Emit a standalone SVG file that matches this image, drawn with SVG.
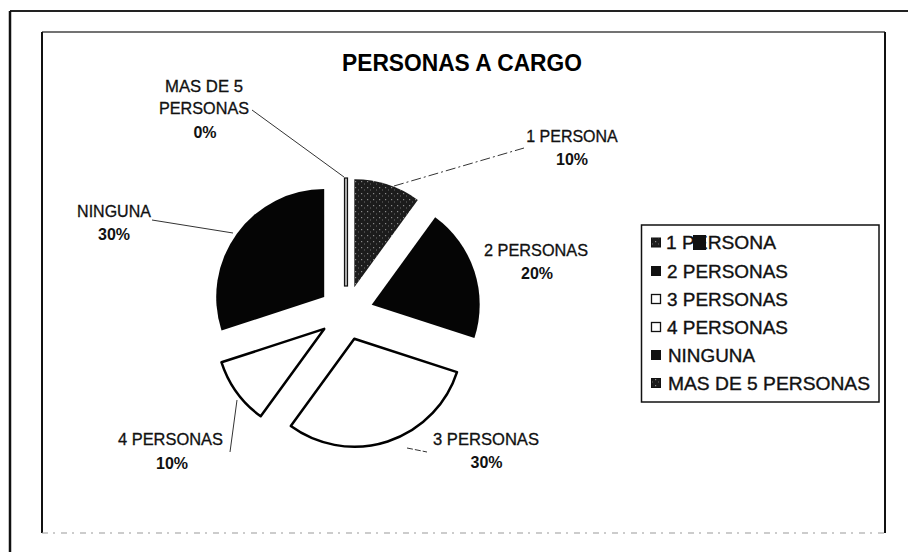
<svg xmlns="http://www.w3.org/2000/svg" width="908" height="552" viewBox="0 0 908 552">
<style>
.lbl{font-family:"Liberation Sans",Arial,sans-serif;font-size:16px;fill:#111;stroke:#111;stroke-width:0.3;text-anchor:middle}
.pct{font-family:"Liberation Sans",Arial,sans-serif;font-size:16px;font-weight:bold;fill:#111;text-anchor:middle}
.leg{font-family:"Liberation Sans",Arial,sans-serif;font-size:18px;fill:#111;stroke:#111;stroke-width:0.35}
.title{font-family:"Liberation Sans",Arial,sans-serif;font-size:23px;font-weight:bold;fill:#000;text-anchor:middle}
.lead{stroke:#333;stroke-width:1;fill:none}
.white{fill:#fff;stroke:#000;stroke-width:2.5;stroke-linejoin:round}
.black{fill:#050505}
.dotted{fill:url(#speck)}
</style>
<defs>
<pattern id="speck" width="6" height="6" patternUnits="userSpaceOnUse">
<rect width="6" height="6" fill="#1c1c1c"/>
<rect x="1" y="1" width="1.2" height="1.2" fill="#8a8a8a"/>
<rect x="4" y="3.5" width="1" height="1" fill="#6e6e6e"/>
</pattern>
</defs>
<rect width="908" height="552" fill="#fff"/>
<g id="frames">
<line x1="10" y1="11" x2="908" y2="11" stroke="#222" stroke-width="2"/>
<line x1="10" y1="11" x2="10" y2="552" stroke="#111" stroke-width="2.5"/>
<line x1="42" y1="32" x2="885" y2="32" stroke="#444" stroke-width="1.5"/>
<line x1="42" y1="32" x2="42" y2="533" stroke="#111" stroke-width="2"/>
<line x1="885" y1="32" x2="885" y2="533" stroke="#111" stroke-width="2"/>
<line x1="42" y1="533" x2="885" y2="533" stroke="#999" stroke-width="1" stroke-dasharray="6 5 2 6"/>
</g>
<text id="title" class="title" x="462" y="71" textLength="240" lengthAdjust="spacingAndGlyphs">PERSONAS A CARGO</text>
<g id="connectors">
<polyline class="lead" points="252,110 344,177"/>
<polyline class="lead" stroke-dasharray="10 3 2 3" points="394,186 524,148"/>
<polyline class="lead" points="152,220 233,233"/>
<polyline class="lead" points="237,400 230,452"/>
<polyline class="lead" stroke-dasharray="6 2" points="407,448 427,452"/>
</g>
<g id="slice-1-persona">
<path class="dotted" d="M354.3,287.3 L354.3,179.3 A108,108 0 0,1 417.8,199.9 Z"/>
</g>
<g id="slice-2-personas">
<path class="black" d="M371.7,304.7 L435.2,217.3 A108,108 0 0,1 474.4,338.1 Z"/>
</g>
<g id="slice-3-personas">
<path class="white" d="M354.3,338.7 L457.0,372.1 A108,108 0 0,1 290.8,426.1 Z"/>
</g>
<g id="slice-4-personas">
<path class="white" d="M324.2,328.9 L260.7,416.3 A108,108 0 0,1 221.5,362.3 Z"/>
</g>
<g id="slice-ninguna">
<path class="black" d="M324.2,297.1 L221.5,330.5 A108,108 0 0,1 324.2,189.1 Z"/>
</g>
<g id="slice-mas-de-5">
<rect x="344.5" y="178" width="3" height="108" fill="#bbb" stroke="#111" stroke-width="1.2"/>
</g>
<g id="label-mas-de-5">
<text class="lbl" x="204" y="92" textLength="78" lengthAdjust="spacingAndGlyphs">MAS DE 5</text>
<text class="lbl" x="204" y="114" textLength="90" lengthAdjust="spacingAndGlyphs">PERSONAS</text>
<text class="pct" x="205" y="138">0%</text>
</g>
<g id="label-1-persona">
<text class="lbl" x="572" y="142">1 PERSONA</text>
<text class="pct" x="572" y="165">10%</text>
</g>
<g id="label-2-personas">
<text class="lbl" x="536" y="256" textLength="104" lengthAdjust="spacingAndGlyphs">2 PERSONAS</text>
<text class="pct" x="537" y="279">20%</text>
</g>
<g id="label-3-personas">
<text class="lbl" x="486" y="445" textLength="106" lengthAdjust="spacingAndGlyphs">3 PERSONAS</text>
<text class="pct" x="486.5" y="468">30%</text>
</g>
<g id="label-4-personas">
<text class="lbl" x="170.5" y="445" textLength="105" lengthAdjust="spacingAndGlyphs">4 PERSONAS</text>
<text class="pct" x="172" y="469">10%</text>
</g>
<g id="label-ninguna">
<text class="lbl" x="114" y="217">NINGUNA</text>
<text class="pct" x="114" y="240">30%</text>
</g>
<g id="legend">
<rect x="641.5" y="225" width="237.5" height="177" fill="#fff" stroke="#111" stroke-width="1.5"/>
<rect x="651.5" y="238" width="9" height="9" fill="url(#speck)" stroke="#111" stroke-width="1"/>
<text class="leg" x="666" y="249" textLength="110" lengthAdjust="spacingAndGlyphs">1 PERSONA</text>
<rect x="693" y="235" width="13" height="15" fill="#111"/>
<rect x="651.5" y="266.5" width="9" height="9" fill="#111" stroke="#111" stroke-width="1"/>
<text class="leg" x="667" y="277.5" textLength="121" lengthAdjust="spacingAndGlyphs">2 PERSONAS</text>
<rect x="651.5" y="294.5" width="9" height="9" fill="#fff" stroke="#111" stroke-width="1.3"/>
<text class="leg" x="667" y="305.5" textLength="121" lengthAdjust="spacingAndGlyphs">3 PERSONAS</text>
<rect x="651.5" y="322.5" width="9" height="9" fill="#fff" stroke="#111" stroke-width="1.3"/>
<text class="leg" x="667" y="333.5" textLength="121" lengthAdjust="spacingAndGlyphs">4 PERSONAS</text>
<rect x="651.5" y="350.5" width="9" height="9" fill="#111" stroke="#111" stroke-width="1"/>
<text class="leg" x="668" y="361.5" textLength="87" lengthAdjust="spacingAndGlyphs">NINGUNA</text>
<rect x="651.5" y="378.5" width="9" height="9" fill="url(#speck)" stroke="#111" stroke-width="1"/>
<text class="leg" x="668" y="389.5" textLength="202" lengthAdjust="spacingAndGlyphs">MAS DE 5 PERSONAS</text>
</g>
</svg>
